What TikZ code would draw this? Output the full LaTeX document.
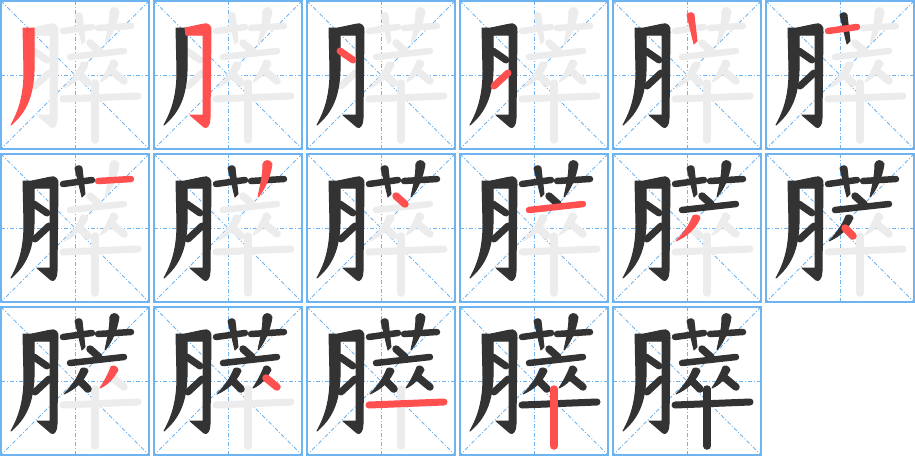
\documentclass[tikz,border=0pt]{standalone}
\definecolor{gridblue}{RGB}{110,180,240}
\definecolor{inkblack}{RGB}{51,51,51}
\definecolor{inkred}{RGB}{255,80,80}
\definecolor{ghostgray}{RGB}{236,236,236}
\tikzset{
  panelframe/.style={draw=gridblue,line width=1.2pt},
  guide/.style={draw=gridblue,line width=0.8pt,dash pattern=on 4pt off 2pt on 1pt off 2pt},
  ghost/.style={draw=ghostgray,fill=ghostgray,line cap=round,line join=round},
  done/.style={draw=inkblack,fill=inkblack,line cap=round,line join=round},
  cur/.style={draw=inkred,fill=inkred,line cap=round,line join=round},
  brush/.style={line width=8pt,fill=none},
  hbrush/.style={line width=6.5pt,fill=none},
  outline/.style={line width=1pt}
}
\newcommand{\drawstroke}[2]{%
  \ifcase#1\or
  \path[#2,outline] (22,27) -- (33,27) -- (33,70) .. controls (32,96) and (25,111) .. (10,124)
     .. controls (19,108) and (23,92) .. (23,70) -- cycle;\or
  \path[#2,outline] (31,27) -- (50,23) .. controls (54,22) and (58,25) .. (57,31) -- (56,117)
     .. controls (56,124) and (53,128) .. (50,126) -- (36,114) -- (49,114) -- (49,34) -- (32,34) -- cycle;\or
  \draw[#2,brush,line width=7pt] (33,50) -- (46,59);\or
  \draw[#2,brush,line width=7pt] (34,85) -- (48,72);\or
  \path[#2,outline] (74,14) .. controls (76,11) and (80,11) .. (81,14) -- (84,40) -- (81,43) -- cycle;\or
  \draw[#2,hbrush] (62,30) -- (91,26);\or
  \draw[#2,hbrush] (97,27) -- (130,25);\or
  \path[#2,outline] (109,10) .. controls (110,6) and (116,5) .. (118,10)
     .. controls (116,24) and (110,36) .. (104,43) .. controls (106,33) and (109,22) .. (109,10) -- cycle;\or
  \draw[#2,brush,line width=7.5pt] (89,42) -- (98,50);\or
  \draw[#2,hbrush] (69,56) -- (123,50);\or
  \path[#2,outline] (80,62) .. controls (82,60) and (86,61) .. (87,64)
     .. controls (82,75) and (74,82) .. (63,87) .. controls (70,80) and (76,72) .. (80,62) -- cycle;\or
  \draw[#2,brush,line width=7.5pt] (79,74) -- (87,82);\or
  \path[#2,outline] (110,60) .. controls (112,58) and (116,59) .. (117,63)
     .. controls (112,72) and (106,78) .. (99,81) .. controls (103,75) and (107,68) .. (110,60) -- cycle;\or
  \draw[#2,brush,line width=7.5pt] (112,71) -- (123,80);\or
  \draw[#2,hbrush,line width=7pt] (62,98) -- (137,95);\or
  \draw[#2,brush,line width=7.5pt] (94,82) -- (94,139);\fi}
\begin{document}
\begin{tikzpicture}[x=1pt,y=-1pt]
\useasboundingbox (0,0) rectangle (915,456);
\fill[white] (0,0) rectangle (915,456);
\foreach \p in {1,...,17}{
  \pgfmathtruncatemacro{\rr}{(\p-1)/6}
  \pgfmathtruncatemacro{\cc}{\p-1-6*\rr}
  \begin{scope}[shift={(1+153*\cc,1+153*\rr)}]
    \draw[guide] (0,0) -- (148,148);
    \draw[guide] (148,0) -- (0,148);
    \draw[guide] (74,0) -- (74,148);
    \draw[guide] (0,74) -- (148,74);
    \draw[panelframe] (0,0) rectangle (148,148);
    \foreach \s in {1,...,16}{
      \ifnum\s>\p \drawstroke{\s}{ghost}\fi
    }
    \foreach \s in {1,...,16}{
      \ifnum\s<\p \drawstroke{\s}{done}\fi
    }
    \ifnum\p<17 \drawstroke{\p}{cur}\fi
  \end{scope}
}
\end{tikzpicture}
\end{document}
